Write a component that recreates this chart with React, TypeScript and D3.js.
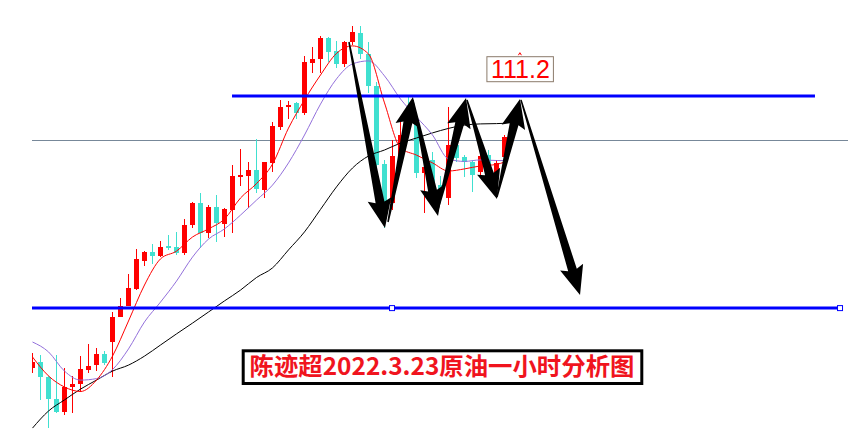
import React, { useEffect } from 'react';
import * as d3 from 'd3';

const W = 866;
const H = 446;

// Hourly candles (price units)
const opens = [102.14,102.34,101.84,101.10,100.68,101.49,101.59,102.07,102.22,102.60,
 102.99,103.84,104.20,104.76,105.71,106.01,105.87,106.21,106.16,105.98,
 106.90,107.62,106.64,107.50,106.93,107.40,108.51,108.53,108.73,108.07,
 108.98,110.16,110.82,110.96,110.64,112.31,112.42,113.14,112.70,112.27,
 113.01,113.29,112.59,111.54,108.93,107.63,109.17,110.67,110.29,108.64,
 109.07,108.23,107.79,109.57,109.16,109.01,108.68,109.23,108.46,109.18];
const highs = [102.63,102.57,101.87,102.57,102.13,101.87,102.53,102.93,102.79,102.70,
 104.01,104.46,105.27,106.10,106.03,106.27,106.37,106.57,106.66,107.09,
 107.66,107.96,107.57,107.90,107.48,108.90,109.42,108.99,109.77,109.01,
 110.33,111.07,111.03,111.00,112.53,112.84,113.21,113.18,113.04,113.04,
 113.54,113.54,113.01,111.67,109.07,109.73,110.43,111.17,110.47,108.97,
 109.33,108.53,110.82,109.73,109.23,109.07,109.40,109.40,109.07,109.90];
const lows = [101.97,101.07,100.13,100.62,100.57,100.64,101.34,101.96,102.04,102.23,
 101.82,103.82,104.20,104.73,105.54,105.59,105.84,106.07,105.90,105.90,
 106.81,106.12,106.46,106.34,106.51,106.64,108.20,107.46,107.98,107.79,
 108.68,110.07,110.42,110.42,110.57,111.96,111.96,112.34,112.12,112.18,
 112.90,112.42,111.31,108.67,106.80,107.40,109.07,110.07,108.47,107.29,
 107.90,107.80,107.57,109.00,108.50,108.01,108.57,108.53,108.00,109.07];
const closes = [102.34,101.84,101.10,100.68,101.51,101.60,102.10,102.20,102.60,102.29,
 103.84,104.20,104.81,105.77,106.01,105.87,106.18,106.14,105.98,106.90,
 107.62,106.64,107.50,106.98,107.43,108.53,108.57,108.73,108.09,108.99,
 110.20,110.82,110.90,110.64,112.33,112.43,113.14,112.68,112.27,112.99,
 113.32,112.59,111.54,108.90,107.57,109.20,109.90,110.27,108.64,108.82,
 108.07,107.98,109.57,109.12,109.01,108.57,109.20,108.68,108.96,109.82];

// Moving averages sampled at candle indices
const maIndex = [0,2,4,6,8,10,12,14,16,18,20,22,24,26,28,30,32,34,36,38,40,42,44,46,48,50,52,54,56,58,59];
const maFast = [102.50,101.87,101.50,101.35,101.73,102.53,103.70,104.90,105.77,106.03,106.50,106.77,107.10,107.80,108.28,108.93,110.13,111.07,111.90,112.62,112.87,112.60,110.97,109.47,109.23,108.97,108.70,108.77,108.87,108.92,109.00];
const maMid = [103.00,102.67,102.03,101.73,101.78,102.08,102.77,103.67,104.33,105.03,105.83,106.43,106.77,107.23,107.73,108.23,108.97,109.90,110.93,111.77,112.27,112.37,111.87,111.10,110.50,109.90,109.10,109.02,109.07,109.05,109.05];
const maSlow = [100.13,100.70,101.07,101.43,101.73,102.03,102.23,102.53,102.90,103.27,103.63,104.00,104.37,104.73,105.15,105.47,106.07,106.67,107.42,108.17,108.80,109.20,109.40,109.63,109.80,109.97,110.12,110.23,110.27,110.28,110.29];

// Horizontal levels
const resistancePrice = 111.2;
const resistanceFrom = 24.94;
const resistanceTo = 97.81;
const supportPrice = 104.13;
const supportFrom = -11.06;
const supportMid = 44.94;
const supportTo = 100.94;
const greyPrice = 109.73;

// Zig-zag arrows [index, price]
const arrowFrom = [[39.56,113.00],[44.44,107.00],[47.56,111.07],[50.56,107.30],[54.31,111.07],[58.06,107.83],[61.06,111.07]];
const arrowTo = [[44.06,106.80],[47.56,111.17],[50.69,107.20],[54.19,111.13],[58.06,107.77],[60.94,111.10],[68.44,104.57]];

const labelText = '111.2';
const labelIndex = 56.8;
const labelPrice = 112.51;
const titleText = '陈迹超2022.3.23原油一小时分析图';

const UP = '#ff0000';
const DOWN = '#40e0d0';

function arrowPath(x0: number, y0: number, x1: number, y1: number) {
  const tailW = 1.5, shaftW = 9, headW = 24, headL = 26, back = 3;
  const dx = x1 - x0, dy = y1 - y0;
  const len = Math.hypot(dx, dy);
  const ux = dx / len, uy = dy / len;
  const nx = -uy, ny = ux;
  const bx = x1 - ux * headL, by = y1 - uy * headL;
  const pts = [
    [x0 + nx * tailW / 2, y0 + ny * tailW / 2],
    [bx + nx * shaftW / 2, by + ny * shaftW / 2],
    [bx - ux * back + nx * headW / 2, by - uy * back + ny * headW / 2],
    [x1, y1],
    [bx - ux * back - nx * headW / 2, by - uy * back - ny * headW / 2],
    [bx - nx * shaftW / 2, by - ny * shaftW / 2],
    [x0 - nx * tailW / 2, y0 - ny * tailW / 2],
  ];
  return 'M' + pts.map(p => p[0].toFixed(2) + ',' + p[1].toFixed(2)).join('L') + 'Z';
}

export default function App() {
  useEffect(() => {
    document.body.style.margin = '0';
    document.body.style.background = '#ffffff';
  }, []);

  const x = d3.scaleLinear().domain([0, 100]).range([32.5, 832.5]);
  const y = d3.scaleLinear().domain([114.4, 114.4 - H / 30]).range([0, H]);

  const line = d3.line<[number, number]>()
    .x(d => x(d[0]))
    .y(d => y(d[1]))
    .curve(d3.curveMonotoneX);
  const maPts = (vals: number[]) => maIndex.map((idx, k) => [idx, vals[k]] as [number, number]);

  const lx = x(labelIndex);
  const ly = y(labelPrice);

  return (
    <svg width={W} height={H} style={{ position: 'absolute', left: 0, top: 0, background: '#fff' }}>
      <defs>
        <clipPath id="plot">
          <rect x={32} y={0} width={816} height={H} />
        </clipPath>
      </defs>
      <rect x={0} y={0} width={W} height={H} fill="#ffffff" />
      <g clipPath="url(#plot)">
        <line x1={32} x2={848} y1={Math.round(y(greyPrice)) + 0.5} y2={Math.round(y(greyPrice)) + 0.5} stroke="#778899" strokeWidth={1} />
        <g shapeRendering="crispEdges">
          {opens.map((o, i) => {
            const c = closes[i];
            const col = c >= o ? UP : DOWN;
            const cx = x(i);
            const top = y(Math.max(o, c));
            const bot = y(Math.min(o, c));
            return (
              <g key={i}>
                <line x1={cx} x2={cx} y1={y(highs[i])} y2={y(lows[i])} stroke={col} strokeWidth={1} />
                <rect x={cx - 2.5} y={top} width={5} height={Math.max(1, bot - top)} fill={col} />
              </g>
            );
          })}
        </g>
        <path d={line(maPts(maSlow)) || ''} fill="none" stroke="#000000" strokeWidth={1} />
        <path d={line(maPts(maMid)) || ''} fill="none" stroke="#9370db" strokeWidth={1} />
        <path d={line(maPts(maFast)) || ''} fill="none" stroke="#ff0000" strokeWidth={1} />
        <line x1={x(resistanceFrom)} x2={x(resistanceTo)} y1={y(resistancePrice)} y2={y(resistancePrice)} stroke="#0000ff" strokeWidth={3} />
        <line x1={x(supportFrom)} x2={x(supportTo)} y1={y(supportPrice)} y2={y(supportPrice)} stroke="#0000ff" strokeWidth={3} />
        <rect x={x(supportMid) - 2.5} y={y(supportPrice) - 2.5} width={5} height={5} fill="#ffffff" stroke="#0000ff" strokeWidth={1} />
        <rect x={x(supportTo) - 2.5} y={y(supportPrice) - 2.5} width={5} height={5} fill="#ffffff" stroke="#0000ff" strokeWidth={1} />
        {arrowFrom.map((f, k) => (
          <path key={k} d={arrowPath(x(f[0]), y(f[1]), x(arrowTo[k][0]), y(arrowTo[k][1]))} fill="#000000" />
        ))}
      </g>
      <rect x={lx} y={ly} width={66.5} height={25} fill="#ffffff" stroke="#8b7b6b" strokeWidth={1} />
      <text x={lx + 33.5} y={ly + 21.5} textAnchor="middle" fontFamily="'Liberation Sans', Arial, sans-serif" fontSize={25} fill="#ff0000">{labelText}</text>
      <path d={`M${lx + 31.5},${ly - 1.5} l1.5,-2.5 l1.5,2.5`} fill="none" stroke="#ff0000" strokeWidth={1} />
      <rect x={243.2} y={350.8} width={398.6} height={32.7} fill="#ffffff" stroke="#000000" strokeWidth={3} />
      <text x={442} y={375} textAnchor="middle" fontFamily="'Noto Sans CJK SC', sans-serif" fontWeight="bold" fontSize={24.4} fill="#f0141e">{titleText}</text>
    </svg>
  );
}
